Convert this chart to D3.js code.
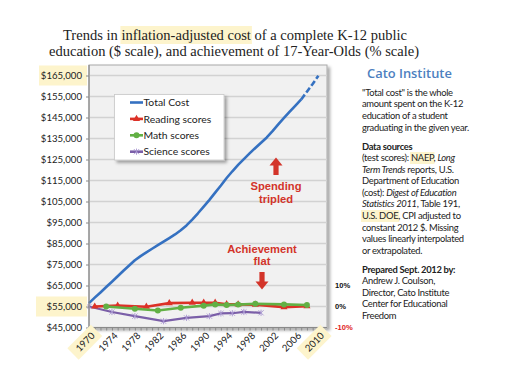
<!DOCTYPE html>
<html><head><meta charset="utf-8">
<script src="https://cdn.jsdelivr.net/npm/d3@7"></script>
<style>
html,body{margin:0;padding:0;background:#fff;}
svg{display:block;}
</style></head>
<body>
<svg id="c" width="516" height="382"></svg>
<script>
// ---------------- DATA ----------------
const costYears = d3.range(1970, 2011);
const totalCost = [56600,59200,61700,64300,66800,69400,72000,74500,77000,79000,
  80800,82500,84200,85900,87600,89300,91300,93600,96400,99400,
  102600,105800,109200,112600,116200,119400,122400,125200,127900,130500,
  133000,135500,138500,141700,144800,147800,150700,153600,157300,161000,164900];
const dashFrom = 2007;

const readingYears = [1971,1975,1980,1984,1988,1990,1992,1994,1996,1999,2004,2008];
const readingPct   = [0,0.4,-0.1,1.6,1.8,1.8,1.8,1.1,1.0,0.9,-0.3,0.1];
const mathYears = [1973,1978,1982,1986,1990,1992,1994,1996,1999,2004,2008];
const mathPct   = [0,-1.1,-1.9,-0.6,0.4,1.0,0.7,0.9,1.3,1.0,0.7];
const scienceYears = [1970,1974,1978,1983,1987,1991,1993,1995,1997,2000];
const sciencePct   = [0,-2.6,-4.6,-7.0,-5.4,-4.6,-3.3,-3.2,-2.6,-3.0];

const yTicks = d3.range(45000, 165001, 10000);
const xLabelYears = d3.range(1970, 2011, 4);
const pctTicks = [10, 0, -10];

const legendItems = ["Total Cost","Reading scores","Math scores","Science scores"];

// ---------------- STYLE ----------------
const C = {blue:"#3571c1", red:"#dc3127", green:"#62b044", purple:"#7b5fa8", sciMark:"#a896d0",
  hl:"#fdf4cc", annot:"#d3342a"};
const sans = "Lato, 'Open Sans', sans-serif";

const svg = d3.select("#c");
svg.append("rect").attr("width",516).attr("height",382).attr("fill","#fff");

const defs = svg.append("defs");
const f = defs.append("filter").attr("id","sh").attr("x","-10%").attr("y","-10%").attr("width","130%").attr("height","130%");
f.append("feDropShadow").attr("dx",2.5).attr("dy",2.5).attr("stdDeviation",1.5).attr("flood-color","#000").attr("flood-opacity",0.35);

// scales
const x = d3.scaleLinear().domain([1970, 2011.5]).range([89, 327]);
const y = d3.scaleLinear().domain([45000, 170000]).range([327.5, 65]);
const yp = d3.scaleLinear().domain([-10, 10]).range([y(45000), y(65000)]);

// ---------------- TITLE ----------------
const title1 = [["Trends in ",false],["inflation-adjusted cost",true],[" of a complete K-12 public",false]];
function richLine(g, segs, x0, yb, opts){
  const t = g.append("text").attr("x",x0).attr("y",yb)
    .attr("font-family",opts.font).attr("font-size",opts.size).attr("fill",opts.fill||"#222")
    .attr("letter-spacing",opts.ls||0);
  const spans = segs.map(s=>{
    const sp = t.append("tspan").text(s.t);
    if(s.b) sp.attr("font-weight","bold");
    if(s.i) sp.attr("font-style","italic");
    if(s.c) sp.attr("fill",s.c);
    return sp;
  });
  return {t, spans};
}
const tg = svg.append("g");
const hlLayer = tg.append("g");
{
  const t = tg.append("text").attr("x",235).attr("y",40).attr("text-anchor","middle")
    .attr("font-family","'Liberation Serif', serif").attr("font-size",15.5).attr("fill","#222")
    .attr("textLength",344).attr("lengthAdjust","spacingAndGlyphs");
  title1.forEach(d=>t.append("tspan").text(d[0]));
  const n0 = title1[0][0].length, n1 = title1[1][0].length;
  const s = t.node().getExtentOfChar(n0), e = t.node().getExtentOfChar(n0+n1-1);
  hlLayer.append("rect").attr("x",s.x-1).attr("y",26).attr("width",e.x+e.width-s.x+2).attr("height",18).attr("fill",C.hl);
  tg.append("text").attr("x",234).attr("y",55.5).attr("text-anchor","middle")
    .attr("font-family","'Liberation Serif', serif").attr("font-size",15.5).attr("fill","#222")
    .attr("textLength",370).attr("lengthAdjust","spacingAndGlyphs")
    .text("education ($ scale), and achievement of 17-Year-Olds (% scale)");
}

// ---------------- PLOT FRAME ----------------
const plot = svg.append("g");
plot.append("rect").attr("x",89).attr("y",65).attr("width",238).attr("height",262.5)
  .attr("fill","#f1f1f1").attr("stroke","#a8a8a8").attr("stroke-width",1).attr("filter","url(#sh)");

// gridlines
plot.append("g").selectAll("line").data(yTicks).join("line")
  .attr("x1",89).attr("x2",327).attr("y1",d=>y(d)).attr("y2",d=>y(d))
  .attr("stroke","#d2d2d2").attr("stroke-width",1.4);

// y highlights
[165000,55000].forEach(v=>{
  svg.append("rect").attr("x", v===165000?39:36).attr("y",y(v)-10).attr("width", v===165000?48:51).attr("height",20).attr("fill",C.hl);
});

// left axis
const yAxis = d3.axisLeft(y).tickValues(yTicks).tickSize(3).tickPadding(4)
  .tickFormat(d=>"$"+d3.format(",")(d));
const ya = svg.append("g").attr("transform","translate(89,0)").call(yAxis);
ya.select(".domain").attr("stroke","#8a8a8a").attr("stroke-width",1.2).attr("d","M0,65V327.5");
ya.selectAll(".tick line").attr("stroke","#8a8a8a");
ya.selectAll("text").attr("font-family",sans).attr("font-size",9.6).attr("fill","#222");

// bottom axis
const xAxis = d3.axisBottom(x).tickValues(costYears).tickSize(3).tickFormat("");
const xa = svg.append("g").attr("transform","translate(0,327.5)").call(xAxis);
xa.select(".domain").attr("stroke","#8a8a8a").attr("stroke-width",1.2).attr("d","M89,0H327");
xa.selectAll(".tick line").attr("stroke","#8a8a8a");

// x labels
const xl = svg.append("g");
xLabelYears.forEach(yr=>{
  const g = xl.append("g").attr("transform",`translate(${x(yr)+4},334) rotate(-45)`);
  const t = g.append("text").attr("text-anchor","end").attr("dy","0.35em")
    .attr("font-family",sans).attr("font-size",9.6).attr("fill","#222").text(yr);
  if(yr===1970 || yr===2010){
    const w = t.node().getComputedTextLength();
    g.insert("rect","text").attr("x",-w-6).attr("y",-8).attr("width",w+11).attr("height",16).attr("fill",C.hl);
  }
});

// ---------------- SERIES ----------------
const costData = costYears.map((yr,i)=>({yr, v: totalCost[i]}));
const costLine = d3.line().x(d=>x(d.yr)).y(d=>y(d.v));
plot.append("path").datum(costData.filter(d=>d.yr<=dashFrom)).attr("d",costLine)
  .attr("fill","none").attr("stroke",C.blue).attr("stroke-width",2.6).attr("stroke-linejoin","round");
plot.append("path").datum(costData.filter(d=>d.yr>=dashFrom)).attr("d",costLine)
  .attr("fill","none").attr("stroke",C.blue).attr("stroke-width",2.6).attr("stroke-dasharray","6,2.5");

const pctLine = d3.line().x(d=>x(d.yr)).y(d=>yp(d.v));
const sci = scienceYears.map((yr,i)=>({yr, v: sciencePct[i]}));
const rd = readingYears.map((yr,i)=>({yr, v: readingPct[i]}));
const mt = mathYears.map((yr,i)=>({yr, v: mathPct[i]}));

function asterisk(g, cx, cy, r, color){
  const a = g.append("g").attr("transform",`translate(${cx},${cy})`).attr("stroke",color).attr("stroke-width",0.9);
  a.append("line").attr("x1",-r).attr("y1",-r).attr("x2",r).attr("y2",r);
  a.append("line").attr("x1",-r).attr("y1",r).attr("x2",r).attr("y2",-r);
  a.append("line").attr("x1",0).attr("y1",-r*1.2).attr("x2",0).attr("y2",r*1.2);
}

// science
plot.append("path").datum(sci).attr("d",pctLine).attr("fill","none").attr("stroke",C.purple).attr("stroke-width",2.2);
sci.forEach(d=>asterisk(plot, x(d.yr), yp(d.v), 2.6, C.sciMark));
// reading
plot.append("path").datum(rd).attr("d",pctLine).attr("fill","none").attr("stroke",C.red).attr("stroke-width",2.6);
plot.append("g").selectAll("path").data(rd).join("path")
  .attr("transform",d=>`translate(${x(d.yr)},${yp(d.v)})`)
  .attr("d",d3.symbol(d3.symbolTriangle,22)).attr("fill",C.red);
// math
plot.append("path").datum(mt).attr("d",pctLine).attr("fill","none").attr("stroke",C.green).attr("stroke-width",2.6);
plot.append("g").selectAll("circle").data(mt).join("circle")
  .attr("cx",d=>x(d.yr)).attr("cy",d=>yp(d.v)).attr("r",3).attr("fill",C.green);

// ---------------- LEGEND ----------------
const lg = svg.append("g");
lg.append("rect").attr("x",114.5).attr("y",94.5).attr("width",109.5).attr("height",65.5)
  .attr("fill","#fff").attr("stroke","#c8c8c8").attr("stroke-width",0.8).attr("filter","url(#sh)");
const lgColors = [C.blue, C.red, C.green, C.purple];
legendItems.forEach((name,i)=>{
  const yy = 102.5 + i*16.4;
  lg.append("line").attr("x1",130).attr("x2",143).attr("y1",yy).attr("y2",yy)
    .attr("stroke",lgColors[i]).attr("stroke-width",2.6);
  if(i===1) lg.append("path").attr("transform",`translate(136.5,${yy})`).attr("d",d3.symbol(d3.symbolTriangle,22)).attr("fill",C.red);
  if(i===2) lg.append("circle").attr("cx",136.5).attr("cy",yy).attr("r",3).attr("fill",C.green);
  if(i===3) asterisk(lg,136.5,yy,2.6,C.sciMark);
  lg.append("text").attr("x",143.5).attr("y",yy).attr("dy","0.36em")
    .attr("font-family",sans).attr("font-size",10.4).attr("fill","#222").text(name);
});

// ---------------- ANNOTATIONS ----------------
function arrow(g, cx, y0, y1, up){
  const hw = 6.5, sw = 2.6, hl = 8;
  const dir = up ? 1 : -1;
  const pts = [[cx, y0],[cx+hw, y0+dir*hl],[cx+sw, y0+dir*hl],[cx+sw, y1],[cx-sw, y1],[cx-sw, y0+dir*hl],[cx-hw, y0+dir*hl]];
  g.append("path").attr("d","M"+pts.map(p=>p.join(",")).join("L")+"Z").attr("fill",C.annot);
}
const an = svg.append("g").attr("font-family","'Liberation Sans', Arial, sans-serif").attr("font-weight","bold")
  .attr("font-size",11.2).attr("fill",C.annot).attr("text-anchor","middle");
arrow(an, 276, 157.5, 175, true);
an.append("text").attr("x",276).attr("y",190).text("Spending");
an.append("text").attr("x",276).attr("y",202.5).text("tripled");
an.append("text").attr("x",262).attr("y",252.5).text("Achievement");
an.append("text").attr("x",262).attr("y",265).text("flat");
arrow(an, 262, 289.5, 272, false);

// pct labels
svg.append("g").selectAll("text").data(pctTicks).join("text")
  .attr("x",335).attr("y",d=>yp(d)).attr("dy","0.35em")
  .attr("font-family","'Liberation Sans', Arial, sans-serif").attr("font-weight","bold").attr("font-size",7.6)
  .attr("fill",d=>d<0?"#e0231c":"#111").text(d=>d+"%");

// ---------------- SIDE TEXT ----------------
const side = svg.append("g");
const sideHl = side.append("g");
side.append("text").attr("x",367).attr("y",78).attr("font-family","'Open Sans', sans-serif")
  .attr("font-size",12.9).attr("font-weight","600").attr("fill","#4d7fc0").text("Cato Institute");

const sideLines = [
  {y:95.5, s:[{t:"\"Total cost\" is the whole"}]},
  {y:107.2, s:[{t:"amount spent on the K-12"}]},
  {y:118.9, s:[{t:"education of a student"}]},
  {y:130.6, s:[{t:"graduating in the given year."}]},
  {y:149.5, s:[{t:"Data sources",b:true}]},
  {y:161, s:[{t:"(test scores): "},{t:"NAEP",hl:true},{t:", "},{t:"Long",i:true}]},
  {y:172.6, s:[{t:"Term Trends",i:true},{t:" reports, U.S."}]},
  {y:184.2, s:[{t:"Department of Education"}]},
  {y:195.8, s:[{t:"(cost): "},{t:"Digest of Education",i:true}]},
  {y:207.4, s:[{t:"Statistics 2011",i:true},{t:", Table 191,"}]},
  {y:219, s:[{t:"U.S. DOE",hl:true},{t:", CPI adjusted to"}]},
  {y:230.6, s:[{t:"constant 2012 $.  Missing"}]},
  {y:242.2, s:[{t:"values linearly interpolated"}]},
  {y:253.8, s:[{t:"or extrapolated."}]},
  {y:272.5, s:[{t:"Prepared Sept. 2012 by:",b:true}]},
  {y:284, s:[{t:"Andrew J. Coulson,"}]},
  {y:295.6, s:[{t:"Director, Cato Institute"}]},
  {y:307.2, s:[{t:"Center for Educational"}]},
  {y:318.8, s:[{t:"Freedom"}]}
];
sideLines.forEach(L=>{
  const r = richLine(side, L.s, 362, L.y, {font:sans, size:9.4, fill:"#222", ls:-0.3});
  let off = 0;
  L.s.forEach((s,i)=>{
    const w = r.spans[i].node().getComputedTextLength();
    if(s.hl){
      sideHl.append("rect").attr("x",362+off-1).attr("y",L.y-9).attr("width",w+2).attr("height",12).attr("fill",C.hl);
    }
    off += w;
  });
});
</script>
</body></html>
